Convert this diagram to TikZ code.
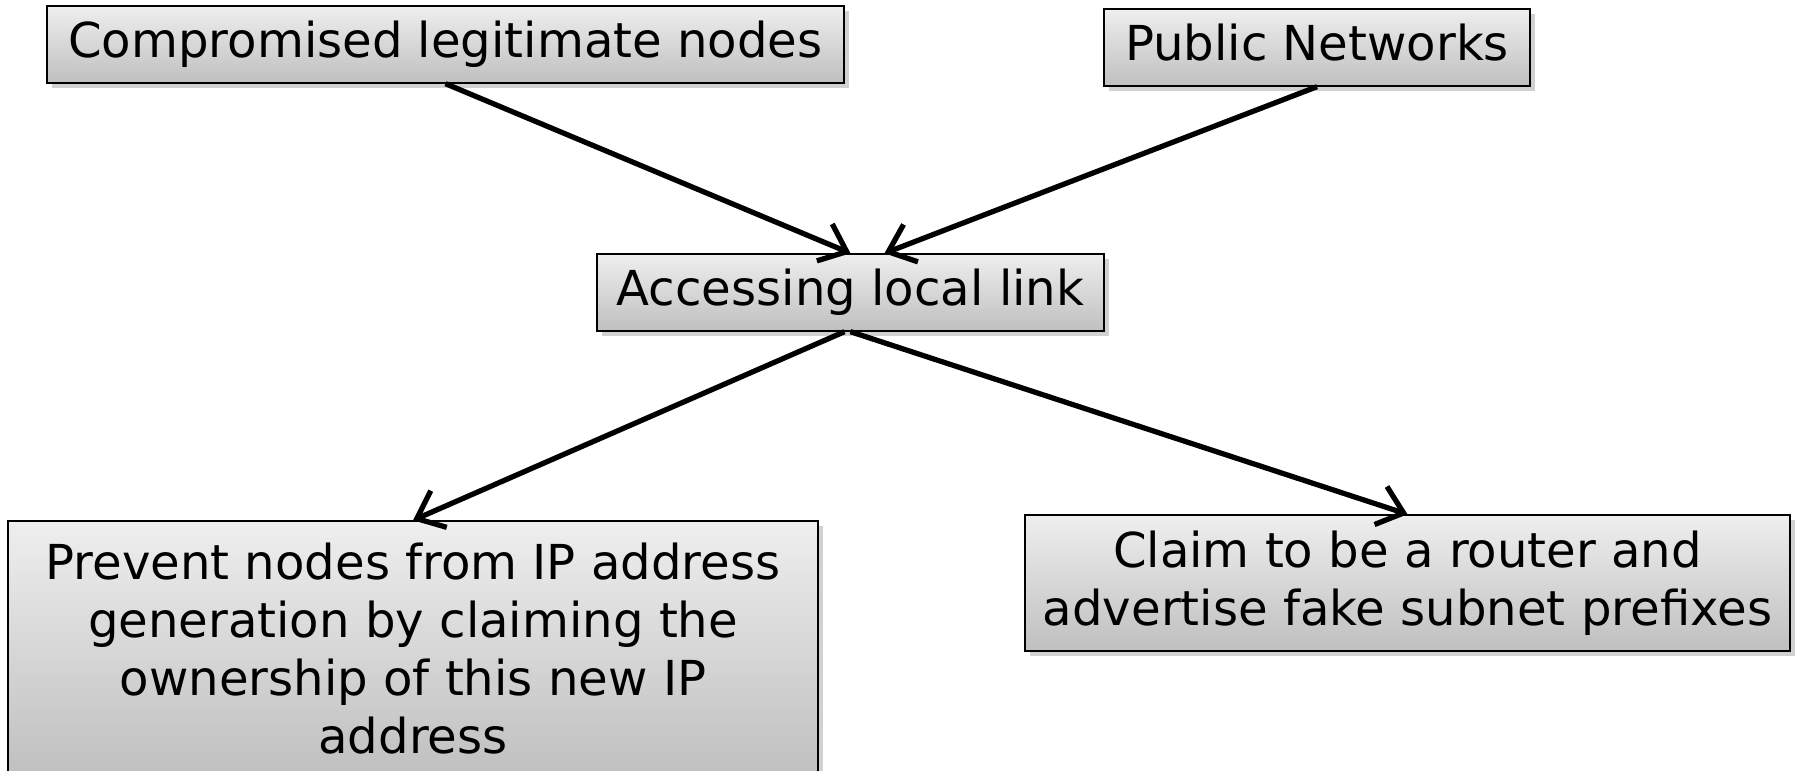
\documentclass[tikz,border=0pt]{standalone}
\usepackage{fontspec}
\setmainfont{DejaVu Sans}
\usepackage{tikz}
\usetikzlibrary{positioning,shadows,arrows.meta}

\begin{document}
\begin{tikzpicture}[
    box/.style={draw=black, thin, top color=gray!13, bottom color=gray!50,
        drop shadow={shadow xshift=0.05cm, shadow yshift=-0.05cm, fill=gray!60, opacity=0.6},
        align=center, inner sep=0pt, font=\fontsize{13.7}{16.5}\selectfont},
    oneline/.style={box, minimum height=0.77cm, text height=0.98em, text depth=0.25em},
    link/.style={line width=1.5pt, -{Straight Barb[length=2.4mm, width=4mm, line width=1.5pt]}}]
        \useasboundingbox (0,0) rectangle (18,7.71);

        \node[oneline, minimum width=7.97cm] (C) at (4.455,7.265) {Compromised legitimate nodes};
        \node[oneline, minimum width=4.26cm] (P) at (13.17,7.235) {Public Networks};
        \node[oneline, minimum width=5.07cm] (A) at (8.505,4.785) {Accessing local link};
        \node[box, minimum width=8.10cm, minimum height=2.56cm] (N) at (4.13,1.22)
            {Prevent nodes from IP address\\generation by claiming the\\ownership of this new IP\\address};
        \node[box, minimum width=7.65cm, minimum height=1.36cm] (R) at (14.075,1.88)
            {Claim to be a router and\\advertise fake subnet prefixes};

        \path[link]
        (C.south) edge (A.north)
            (P.south) edge ([xshift=0.34cm]A.north)
            ([xshift=-0.06cm]A.south) edge (N.north)
            (A.south) edge (R.north);
    \end{tikzpicture}
\end{document}
